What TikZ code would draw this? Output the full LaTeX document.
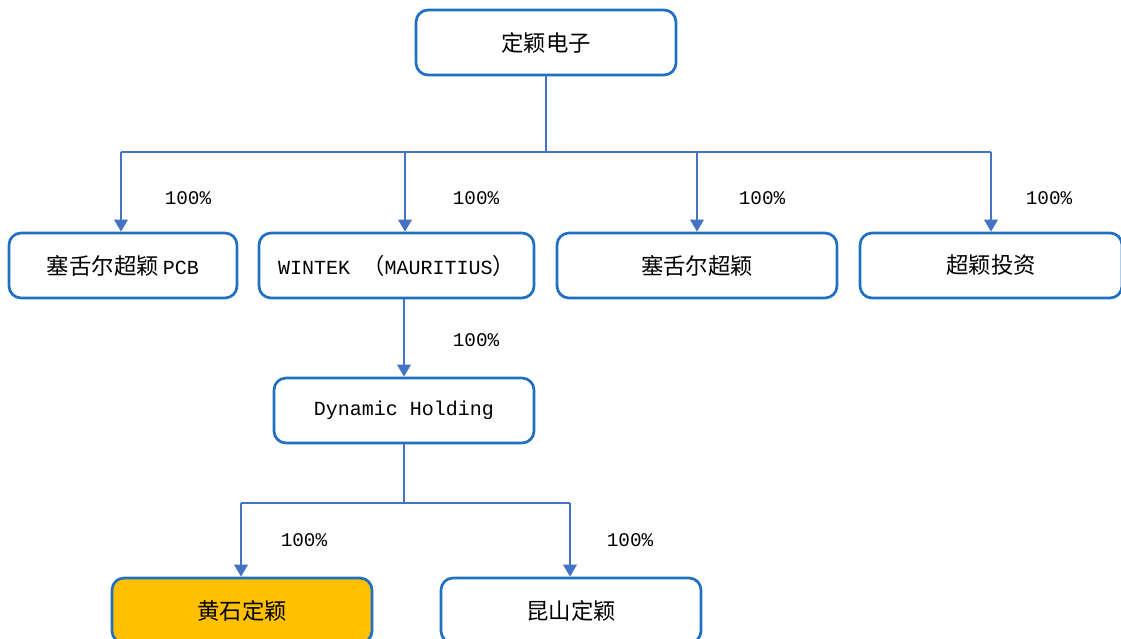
\documentclass[tikz,border=0pt]{standalone}
\usepackage{fontspec}
\setmainfont{Liberation Mono}
\newfontfamily\cjk[Scale=1.12]{Noto Sans CJK SC}
\usetikzlibrary{arrows.meta}
\definecolor{boxblue}{HTML}{1F70C1}
\definecolor{lineblue}{HTML}{4472C4}
\definecolor{holdgold}{HTML}{FFC000}

\begin{document}
\begin{tikzpicture}[x=0.75pt,y=-0.75pt,
        company/.style={draw=boxblue,line width=2pt,rounded corners=9pt,fill=white,minimum height=48.75pt,font=\fontsize{15}{18}\selectfont},
        link/.style={draw=lineblue,line width=1.8pt},
        share/.style={link,-{Triangle[width=10pt,length=9pt]}},
        pct/.style={font=\fontsize{14.5}{17}\selectfont}]
        \clip (0,0) rectangle (1121,639);
        \useasboundingbox (0,0) rectangle (1121,639);

        \coordinate (t1) at (546,42.5);
        \coordinate (m1) at (123,265.5);
        \coordinate (m2) at (396.5,265.5);
        \coordinate (m3) at (697,265.5);
        \coordinate (m4) at (991,265.5);
        \coordinate (d1) at (404,410.5);
        \coordinate (b1) at (242,610.5);
        \coordinate (b2) at (571,610.5);

        \coordinate (busT) at (546,152);
        \coordinate (busL) at (121,152);
        \coordinate (busW) at (405,152);
        \coordinate (busS) at (697,152);
        \coordinate (busR) at (991,152);
        \coordinate (busD) at (404,503);
        \coordinate (busDL) at (241,503);
        \coordinate (busDR) at (570,503);

        \node[company,minimum width=195pt] (dingying) at (t1){\cjk 定颖电子};
        \node[company,minimum width=171pt] (seychpcb) at (m1){{\cjk 塞舌尔超颖}\hspace{3pt}PCB};
        \node[company,minimum width=206.25pt] (wintek) at (m2){WINTEK {\cjk （}MAURITIUS{\cjk ）}};
        \node[company,minimum width=210pt] (seych) at (m3){\cjk 塞舌尔超颖};
        \node[company,minimum width=196.5pt] (invest) at (m4){\cjk 超颖投资};
        \node[company,minimum width=195pt] (dynamic) at (d1){Dynamic Holding};
        \node[company,minimum width=195pt,fill=holdgold] (huangshi) at (b1){\cjk 黄石定颖};
        \node[company,minimum width=195pt] (kunshan) at (b2){\cjk 昆山定颖};

        \draw[link] (dingying.south) -- (busT);
        \draw[link] (busL) -- (busR);
        \draw[share] (busL) -- (busL |- seychpcb.north);
        \draw[share] (busW) -- (busW |- wintek.north);
        \draw[share] (busS) -- (seych.north);
        \draw[share] (busR) -- (invest.north);
        \draw[share] (dynamic.north |- wintek.south) -- (dynamic.north);
        \draw[link] (dynamic.south) -- (busD);
        \draw[link] (busDL) -- (busDR);
        \draw[share] (busDL) -- (busDL |- huangshi.north);
        \draw[share] (busDR) -- (busDR |- kunshan.north);

        \node[pct] (p1) at (188,198){100\%};
        \node[pct] (p2) at (476,198){100\%};
        \node[pct] (p3) at (762,198){100\%};
        \node[pct] (p4) at (1049,198){100\%};
        \node[pct] (p5) at (476,340){100\%};
        \node[pct] (p6) at (304,540){100\%};
        \node[pct] (p7) at (630,540){100\%};
\end{tikzpicture}
\end{document}
